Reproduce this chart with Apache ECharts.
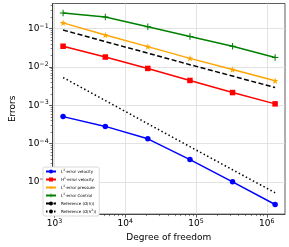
<!DOCTYPE html>
<html><head><meta charset="utf-8">
<script src="https://cdn.jsdelivr.net/npm/echarts@6/dist/echarts.min.js"></script>
<style>html,body{margin:0;padding:0;background:#fff}#c{width:289px;height:247px}</style>
</head><body><div id="c"></div>
<script>
const dof = [1320, 5220, 20800, 82000, 328000, 1310000];
const l2Velocity = [5.06e-4, 2.81e-4, 1.33e-4, 3.82e-5, 1.0e-5, 2.56e-6];
const h1Velocity = [0.0348, 0.0182, 0.00917, 0.00445, 0.00215, 0.00109];
const l2Pressure = [0.142, 0.0687, 0.034, 0.0168, 0.00863, 0.00435];
const l2Control = [0.256, 0.202, 0.112, 0.0625, 0.0348, 0.0178];
const refOh = [0.092, 0.046, 0.023, 0.0115, 0.0058, 0.0029];
const refOh2 = [0.0053, 0.00133, 0.00033, 8.3e-5, 2.07e-5, 5.2e-6];
const xMajor = [1e3, 1e4, 1e5, 1e6];
const yMajor = [1e-5, 1e-4, 1e-3, 1e-2, 1e-1];
const names = ['L2-error velocity', 'H1-error velocity', 'L2-error pressure', 'L2-error Control', 'Reference (O(h))', 'Reference (O(h2))'];
const legendRich = {
  'L2-error velocity': '{it|L}{sup|2}-error velocity',
  'H1-error velocity': '{it|H}{sup|1}-error velocity',
  'L2-error pressure': '{it|L}{sup|2}-error pressure',
  'L2-error Control': '{it|L}{sup|2}-error Control',
  'Reference (O(h))': 'Reference ({it|O}({it|h}))',
  'Reference (O(h2))': 'Reference ({it|O}({it|h}{sup|2}))'
};

function minors(lo, hi) {
  const out = [];
  for (let e = lo; e <= hi; e++) for (let k = 2; k <= 9; k++) out.push(k * Math.pow(10, e));
  return out;
}
const X0 = 940, X1 = 1.807e6, Y0 = 1.44e-6, Y1 = 0.455;
const F = 'DejaVu Sans';
function supFmt(v) {
  const e = Math.round(Math.log10(v));
  return '10{s|' + (e < 0 ? '\u2212' + (-e) : e) + '}';
}
const tickRich = { s: { fontSize: 6.3, fontFamily: F, color: '#000', verticalAlign: 'bottom', padding: [0, 0, 5, 0] } };
const star = 'path://M50,0 L61.8,36.2 L100,36.2 L69.1,58.8 L80.9,95.1 L50,72.4 L19.1,95.1 L30.9,58.8 L0,36.2 L38.2,36.2 Z';
const plus = 'path://M42,0 H58 V42 H100 V58 H58 V100 H42 V58 H0 V42 H42 Z';

function mk(arr) { return dof.map((x, i) => [x, arr[i]]); }
const chart = echarts.init(document.getElementById('c'), null, { renderer: 'canvas' });
const axisColor = '#333';
chart.setOption({
  animation: false,
  grid: { left: 42, right: 4, top: 3.5, bottom: 28.5, show: true, borderColor: axisColor, borderWidth: 0.8, backgroundColor: '#fff' },
  xAxis: [{
    type: 'log', min: X0, max: X1, gridIndex: 0,
    name: 'Degree of freedom', nameLocation: 'middle', nameGap: 16,
    nameTextStyle: { fontFamily: F, fontSize: 9, color: '#000' },
    axisLine: { show: true, lineStyle: { color: axisColor, width: 0.8 } },
    axisTick: { show: true, inside: false, length: 3.5, customValues: xMajor, lineStyle: { color: axisColor, width: 0.8 } },
    axisLabel: { customValues: xMajor, formatter: supFmt, rich: tickRich, fontFamily: F, fontSize: 9, color: '#000', margin: 4 },
    splitLine: { show: true, lineStyle: { color: '#dcdcdc', width: 0.8 } },
    minorTick: { show: false }
  }, {
    type: 'log', min: X0, max: X1, gridIndex: 0, position: 'bottom',
    axisLine: { show: false },
    axisTick: { show: true, length: 2, customValues: minors(2, 6), lineStyle: { color: axisColor, width: 0.6 } },
    axisLabel: { show: false }, splitLine: { show: false }
  }],
  yAxis: [{
    type: 'log', min: Y0, max: Y1, gridIndex: 0,
    name: 'Errors', nameLocation: 'middle', nameGap: 32, nameRotate: 90,
    nameTextStyle: { fontFamily: F, fontSize: 9, color: '#000' },
    axisLine: { show: true, lineStyle: { color: axisColor, width: 0.8 } },
    axisTick: { show: true, inside: false, length: 3.5, customValues: yMajor, lineStyle: { color: axisColor, width: 0.8 } },
    axisLabel: { customValues: yMajor, formatter: supFmt, rich: tickRich, fontFamily: F, fontSize: 9, color: '#000', margin: 4 },
    splitLine: { show: true, lineStyle: { color: '#dcdcdc', width: 0.8 } }
  }, {
    type: 'log', min: Y0, max: Y1, gridIndex: 0, position: 'left',
    axisLine: { show: false },
    axisTick: { show: true, length: 2, customValues: minors(-6, -1), lineStyle: { color: axisColor, width: 0.6 } },
    axisLabel: { show: false }, splitLine: { show: false }
  }],
  legend: {
    orient: 'vertical', left: 43, top: 167,
    backgroundColor: '#fff', borderColor: '#d0d0d0', borderWidth: 0.8, borderRadius: 2,
    padding: [2, 3, 2, 2], itemWidth: 10, itemHeight: 5, itemGap: 3,
    data: names,
    formatter: n => legendRich[n],
    textStyle: { fontFamily: F, fontSize: 4, color: '#000', lineHeight: 5,
      rich: { it: { fontStyle: 'italic', fontFamily: F, fontSize: 4 }, sup: { fontSize: 3, fontFamily: F, verticalAlign: 'bottom', padding: [0, 0, 2, 0] } } }
  },
  series: [
    { name: names[0], type: 'line', data: mk(l2Velocity), symbol: 'circle', symbolSize: 5.5, color: '#0000ff', lineStyle: { width: 1.5 }, z: 6 },
    { name: names[1], type: 'line', data: mk(h1Velocity), symbol: 'rect', symbolSize: 5.5, color: '#ff0000', lineStyle: { width: 1.5 }, z: 5 },
    { name: names[2], type: 'line', data: mk(l2Pressure), symbol: star, symbolSize: 6.5, color: '#ffa500', lineStyle: { width: 1.5 }, z: 4 },
    { name: names[3], type: 'line', data: mk(l2Control), symbol: plus, symbolSize: 6.5, color: '#008000', lineStyle: { width: 1.5 }, z: 3 },
    { name: names[4], type: 'line', data: mk(refOh), symbol: 'none', color: '#000', lineStyle: { width: 1.5, type: [5, 2.5] }, z: 2 },
    { name: names[5], type: 'line', data: mk(refOh2), symbol: 'none', color: '#000', lineStyle: { width: 1.5, type: [1.5, 2.5] }, z: 2 }
  ]
});
</script></body></html>
